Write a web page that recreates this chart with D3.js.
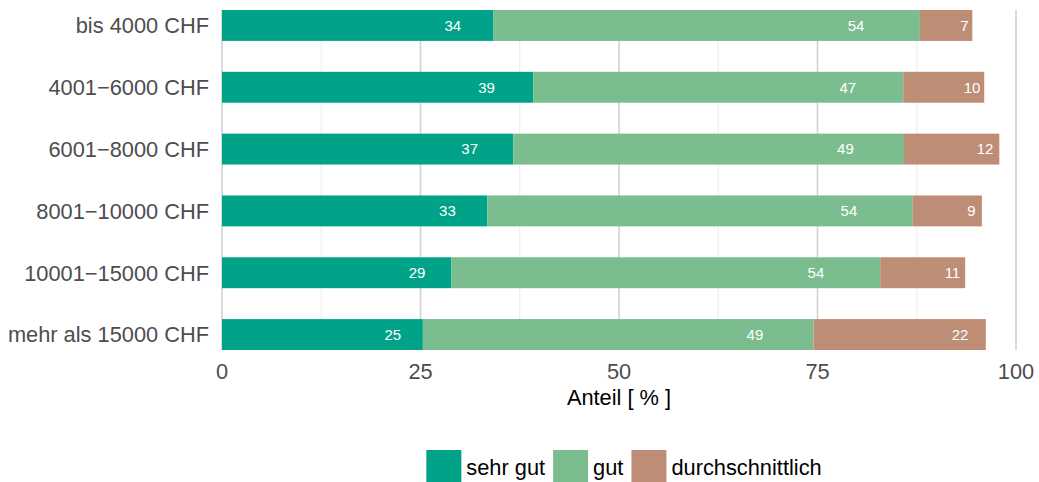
<!DOCTYPE html>
<html>
<head>
<meta charset="utf-8">
<script src="https://cdn.jsdelivr.net/npm/d3@7"></script>
<style>
  body { margin: 0; background: #fff; }
  svg text { font-family: "Liberation Sans", Arial, sans-serif; }
</style>
</head>
<body>
<div id="chart"></div>
<script>
// income groups, top to bottom
const categories = ["bis 4000 CHF", "4001\u22126000 CHF", "6001\u22128000 CHF",
  "8001\u221210000 CHF", "10001\u221215000 CHF", "mehr als 15000 CHF"];
const seriesNames = ["sehr gut", "gut", "durchschnittlich"];
const sehrGut = [34.2, 39.2, 36.7, 33.4, 28.9, 25.3];
const gut = [53.7, 46.6, 49.2, 53.6, 54.0, 49.2];
const durchschnittlich = [6.6, 10.2, 12.0, 8.7, 10.7, 21.7];
const xTicks = [0, 25, 50, 75, 100];
const colors = ["#00a388", "#7bbd8f", "#bd8d76"];

const width = 1039, height = 482;
const margin = { top: 10, right: 23, bottom: 132, left: 222 };
const fontSize = "21.8px";

const svg = d3.select("#chart").append("svg")
  .attr("width", width)
  .attr("height", height);

const x = d3.scaleLinear()
  .domain([0, 100])
  .range([margin.left, width - margin.right]);

const y = d3.scaleBand()
  .domain(categories)
  .range([margin.top, height - margin.bottom])
  .paddingInner(0.5)
  .paddingOuter(0);

// table for stacking
const rows = categories.map((c, i) => ({
  cat: c, "sehr gut": sehrGut[i], "gut": gut[i], "durchschnittlich": durchschnittlich[i]
}));
const stacked = d3.stack().keys(seriesNames)(rows);

// grid: minor then major
const minor = [12.5, 37.5, 62.5, 87.5];
svg.append("g").selectAll("line").data(minor).enter().append("line")
  .attr("x1", d => x(d)).attr("x2", d => x(d))
  .attr("y1", margin.top).attr("y2", height - margin.bottom)
  .attr("stroke", "#ebebeb").attr("stroke-width", 1);
svg.append("g").selectAll("line").data(xTicks).enter().append("line")
  .attr("x1", d => x(d)).attr("x2", d => x(d))
  .attr("y1", margin.top).attr("y2", height - margin.bottom)
  .attr("stroke", "#d2d2d2").attr("stroke-width", 1.6);

// bars
const layers = svg.append("g").selectAll("g").data(stacked).enter().append("g")
  .attr("fill", (d, i) => colors[i]);

layers.selectAll("rect").data(d => d).enter().append("rect")
  .attr("x", d => x(d[0]))
  .attr("y", d => y(d.data.cat))
  .attr("width", d => x(d[1]) - x(d[0]))
  .attr("height", y.bandwidth());

// value labels, placed at 85% of each segment
layers.selectAll("text").data(d => d.map(s => ({ s, key: d.key }))).enter().append("text")
  .attr("x", d => x(d.s[0] + 0.85 * (d.s[1] - d.s[0])))
  .attr("y", d => y(d.s.data.cat) + y.bandwidth() / 2)
  .attr("dy", "0.36em")
  .attr("text-anchor", "middle")
  .attr("fill", "#fff")
  .style("font-size", "15px")
  .text(d => Math.round(d.s.data[d.key]));

// y axis labels
svg.append("g").selectAll("text").data(categories).enter().append("text")
  .attr("x", margin.left - 13)
  .attr("y", d => y(d) + y.bandwidth() / 2)
  .attr("dy", "0.36em")
  .attr("text-anchor", "end")
  .attr("fill", "#4d4d4d")
  .style("font-size", fontSize)
  .text(d => d);

// x axis tick labels
svg.append("g").selectAll("text").data(xTicks).enter().append("text")
  .attr("x", d => x(d))
  .attr("y", 379)
  .attr("text-anchor", "middle")
  .attr("fill", "#4d4d4d")
  .style("font-size", fontSize)
  .text(d => d);

// axis title
svg.append("text")
  .attr("x", (x(0) + x(100)) / 2)
  .attr("y", 405)
  .attr("text-anchor", "middle")
  .attr("fill", "#000")
  .style("font-size", fontSize)
  .text("Anteil [ % ]");

// legend
const legend = svg.append("g");
const items = legend.selectAll("g").data(seriesNames).enter().append("g");
items.append("rect")
  .attr("width", 35).attr("height", 32)
  .attr("y", 450)
  .attr("fill", (d, i) => colors[i]);
items.append("text")
  .attr("y", 475)
  .attr("fill", "#000")
  .style("font-size", fontSize)
  .text(d => d);

let cx = 0;
items.each(function() {
  const g = d3.select(this);
  const tw = g.select("text").node().getComputedTextLength();
  g.select("rect").attr("x", cx);
  g.select("text").attr("x", cx + 40);
  cx += 40 + tw + 8;
});
const total = cx - 8;
legend.attr("transform", `translate(${624 - total / 2},0)`);
</script>
</body>
</html>
